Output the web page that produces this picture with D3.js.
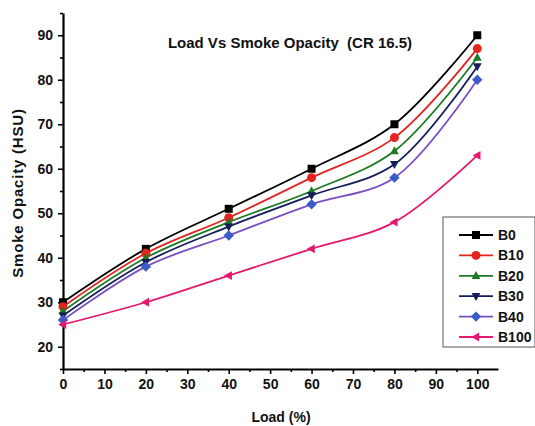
<!DOCTYPE html>
<html>
<head>
<meta charset="utf-8">
<script src="https://cdn.jsdelivr.net/npm/d3@7"></script>
<style>
  body { margin: 0; background: #fff; }
  text { font-family: "Liberation Sans", Arial, sans-serif; font-weight: bold; }
</style>
</head>
<body>
<script>
var loads = [0, 20, 40, 60, 80, 100];
var seriesNames = ["B0", "B10", "B20", "B30", "B40", "B100"];
var b0 = [30, 42, 51, 60, 70, 90];
var b10 = [29, 41, 49, 58, 67, 87];
var b20 = [28, 40, 48, 55, 64, 85];
var b30 = [27, 39, 47, 54, 61, 83];
var b40 = [26, 38, 45, 52, 58, 80];
var b100 = [25, 30, 36, 42, 48, 63];
var xTicks = [0, 10, 20, 30, 40, 50, 60, 70, 80, 90, 100];
var yTicks = [20, 30, 40, 50, 60, 70, 80, 90];

var values = [b0, b10, b20, b30, b40, b100];
var lineColors = ["#000000", "#e3241f", "#1b7a22", "#141d5c", "#7a4fc4", "#e4186e"];
var markColors = ["#000000", "#e3241f", "#1b7a22", "#141d5c", "#3b5cc8", "#e4186e"];
var shapes = ["square", "circle", "up", "down", "diamond", "left"];

var margin = {top: 13, right: 37, bottom: 57, left: 63};
var W = 535, H = 426;
var width = W - margin.left - margin.right;
var height = H - margin.top - margin.bottom;

var svg = d3.select("body").append("svg")
    .attr("width", W)
    .attr("height", H);
var g = svg.append("g")
    .attr("transform", "translate(" + margin.left + "," + margin.top + ")");

var x = d3.scaleLinear().domain([0, 105]).range([0, width]);
var y = d3.scaleLinear().domain([15, 95]).range([height, 0]);

// minor ticks
g.append("g")
    .attr("transform", "translate(0," + height + ")")
    .call(d3.axisBottom(x).tickValues(d3.range(5, 105, 10)).tickSize(3).tickFormat(""))
    .call(function(a) { a.select(".domain").remove(); })
    .selectAll("line").attr("stroke-width", 1.6);
g.append("g")
    .call(d3.axisLeft(y).tickValues(d3.range(15, 96, 10)).tickSize(3).tickFormat(""))
    .call(function(a) { a.select(".domain").remove(); })
    .selectAll("line").attr("stroke-width", 1.6);

var xAxis = g.append("g")
    .attr("transform", "translate(0," + height + ")")
    .call(d3.axisBottom(x).tickValues(xTicks).tickSize(5).tickSizeOuter(0).tickPadding(5));
var yAxis = g.append("g")
    .call(d3.axisLeft(y).tickValues(yTicks).tickSize(5).tickSizeOuter(0).tickPadding(5));

[xAxis, yAxis].forEach(function(a) {
  a.select(".domain").attr("stroke-width", 2.2);
  a.selectAll(".tick line").attr("stroke-width", 1.6);
  a.selectAll("text").attr("font-size", 14).attr("fill", "#111");
});

// lines
var line = d3.line()
    .x(function(d, i) { return x(loads[i]); })
    .y(function(d) { return y(d); })
    .curve(d3.curveCatmullRom.alpha(0.5));

values.forEach(function(vals, s) {
  g.append("path")
      .datum(vals)
      .attr("fill", "none")
      .attr("stroke", lineColors[s])
      .attr("stroke-width", 1.8)
      .attr("d", line);
});

function marker(sel, shape, color, cx, cy, r) {
  var p;
  if (shape === "square") {
    return sel.append("rect").attr("x", cx - r).attr("y", cy - r)
      .attr("width", 2 * r).attr("height", 2 * r).attr("fill", color);
  }
  if (shape === "circle") {
    return sel.append("circle").attr("cx", cx).attr("cy", cy).attr("r", r + 0.5).attr("fill", color);
  }
  if (shape === "up") p = [[cx, cy - r * 1.2], [cx + r * 1.1, cy + r * 0.8], [cx - r * 1.1, cy + r * 0.8]];
  if (shape === "down") p = [[cx, cy + r * 1.2], [cx + r * 1.1, cy - r * 0.8], [cx - r * 1.1, cy - r * 0.8]];
  if (shape === "diamond") p = [[cx, cy - r * 1.3], [cx + r * 1.3, cy], [cx, cy + r * 1.3], [cx - r * 1.3, cy]];
  if (shape === "left") p = [[cx - r * 1.2, cy], [cx + r * 0.8, cy - r * 1.1], [cx + r * 0.8, cy + r * 1.1]];
  return sel.append("polygon").attr("points", p.map(function(q) { return q.join(","); }).join(" "))
    .attr("fill", color);
}

values.forEach(function(vals, s) {
  var mg = g.append("g");
  vals.forEach(function(v, i) {
    marker(mg, shapes[s], markColors[s], x(loads[i]), y(v), 4);
  });
});

// title
svg.append("text")
    .attr("x", 290).attr("y", 48)
    .attr("text-anchor", "middle")
    .attr("font-size", 15)
    .attr("fill", "#111")
    .attr("xml:space", "preserve")
    .text("Load Vs Smoke Opacity  (CR 16.5)");

// axis titles
svg.append("text")
    .attr("x", 281).attr("y", 422)
    .attr("text-anchor", "middle")
    .attr("font-size", 14)
    .attr("fill", "#111")
    .text("Load (%)");
svg.append("text")
    .attr("transform", "translate(23," + (margin.top + height / 2 + 2) + ") rotate(-90)")
    .attr("text-anchor", "middle")
    .attr("font-size", 15)
    .attr("letter-spacing", 0.8)
    .attr("fill", "#111")
    .text("Smoke Opacity (HSU)");

// legend
var leg = svg.append("g").attr("transform", "translate(443,217)");
leg.append("rect")
    .attr("width", 92).attr("height", 130)
    .attr("fill", "#fff").attr("stroke", "#555").attr("stroke-width", 1);
seriesNames.forEach(function(name, s) {
  var ly = 18 + s * 20.4;
  leg.append("line")
      .attr("x1", 16).attr("x2", 50).attr("y1", ly).attr("y2", ly)
      .attr("stroke", lineColors[s]).attr("stroke-width", 1.8);
  marker(leg, shapes[s], markColors[s], 33, ly, 4);
  leg.append("text")
      .attr("x", 55).attr("y", ly + 5)
      .attr("font-size", 14)
      .attr("fill", "#111")
      .text(name);
});
</script>
</body>
</html>
